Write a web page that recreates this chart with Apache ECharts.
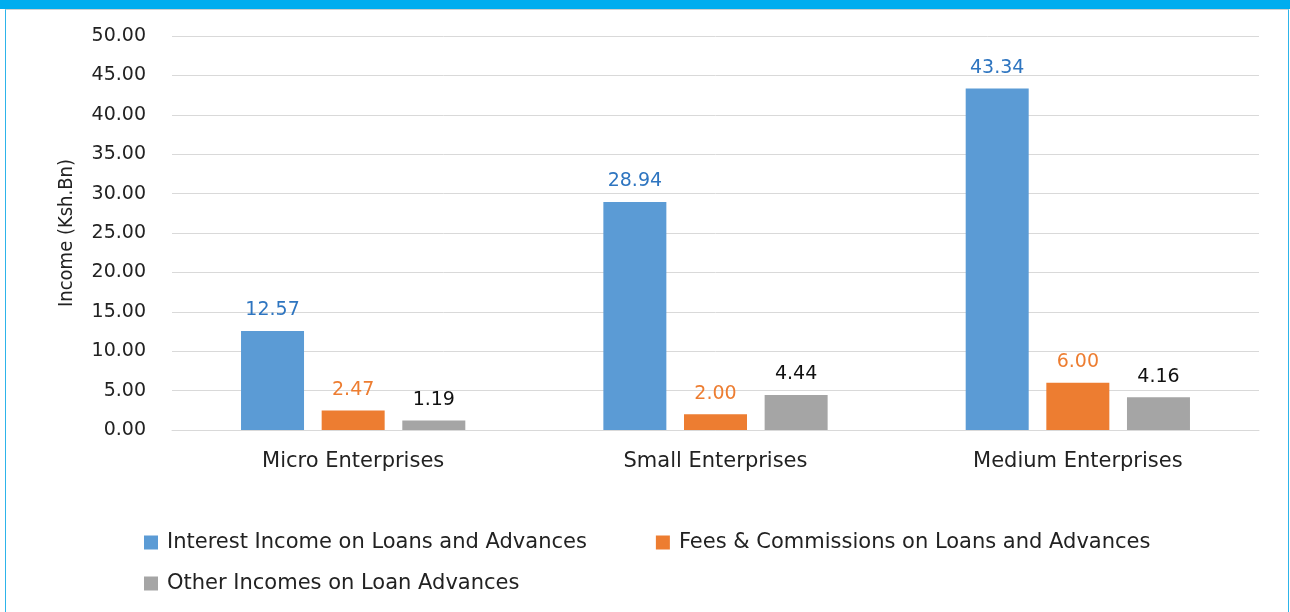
<!DOCTYPE html>
<html>
<head>
<meta charset="utf-8">
<script src="https://cdn.jsdelivr.net/npm/echarts@6/dist/echarts.min.js"></script>
<style>
  html, body { margin: 0; padding: 0; background: #fff; }
  #topbar { position: absolute; left: 0; top: 0; width: 1290px; height: 9px; background: #00ADEF; }
  #frame { position: absolute; left: 5px; top: 9px; width: 1282px; height: 610px;
           border-left: 1px solid #2DB4EA; border-right: 1px solid #2DB4EA; border-top: 1px solid #D0D0D0; }
  #chart { position: absolute; left: 0; top: 0; width: 1290px; height: 612px; }
</style>
</head>
<body>
<div id="topbar"></div>
<div id="frame"></div>
<div id="chart"></div>
<script>
// categories and series
const categories = ['Micro Enterprises', 'Small Enterprises', 'Medium Enterprises'];
const interestIncome = [12.57, 28.94, 43.34];
const feesCommissions = [2.47, 2.00, 6.00];
const otherIncomes = [1.19, 4.44, 4.16];
const seriesNames = [
  'Interest Income on Loans and Advances',
  'Fees & Commissions on Loans and Advances',
  'Other Incomes on Loan Advances'
];

const font = 'DejaVu Sans';

function barSeries (name, data, color, labelColor) {
  return {
    name: name,
    type: 'bar',
    data: data,
    barWidth: 63,
    barGap: '28%',
    itemStyle: { color: color },
    label: {
      show: true,
      position: 'top',
      distance: 11,
      color: labelColor,
      fontFamily: font,
      fontSize: 19,
      formatter: p => p.value.toFixed(2)
    }
  };
}

const legendText = { fontFamily: font, fontSize: 21, color: '#222', padding: [0, 0, 0, 4] };

let myChart = echarts.init(document.getElementById('chart'));
myChart.setOption({
  animation: false,
  textStyle: { fontFamily: font },
  grid: { left: 172, right: 31, top: 36, bottom: 182 },
  legend: [
    {
      data: [seriesNames[0], seriesNames[1]],
      left: 139,
      top: 527,
      itemWidth: 14,
      itemHeight: 14,
      itemGap: 69,
      icon: 'rect',
      textStyle: legendText
    },
    {
      data: [seriesNames[2]],
      left: 139,
      top: 568,
      itemWidth: 14,
      itemHeight: 14,
      icon: 'rect',
      textStyle: legendText
    }
  ],
  xAxis: {
    type: 'category',
    data: categories,
    axisTick: { show: false },
    axisLine: { lineStyle: { color: '#D9D9D9', width: 1 } },
    axisLabel: { color: '#222', fontSize: 21, margin: 21, fontFamily: font }
  },
  yAxis: {
    type: 'value',
    min: 0,
    max: 50,
    interval: 5,
    name: 'Income (Ksh.Bn)',
    nameLocation: 'middle',
    nameGap: 95,
    nameTextStyle: { fontFamily: 'DejaVu Sans Condensed', fontSize: 20, color: '#222' },
    axisLabel: {
      color: '#222',
      fontSize: 19,
      margin: 26,
      fontFamily: font,
      formatter: v => v.toFixed(2)
    },
    splitLine: { lineStyle: { color: '#D9D9D9', width: 1 } },
    axisLine: { show: false },
    axisTick: { show: false }
  },
  series: [
    barSeries(seriesNames[0], interestIncome, '#5B9BD5', '#2E75C0'),
    barSeries(seriesNames[1], feesCommissions, '#ED7D31', '#ED7D31'),
    barSeries(seriesNames[2], otherIncomes, '#A5A5A5', '#111')
  ]
});
window.addEventListener('resize', () => {
  myChart.resize();
});
</script>
</body>
</html>
